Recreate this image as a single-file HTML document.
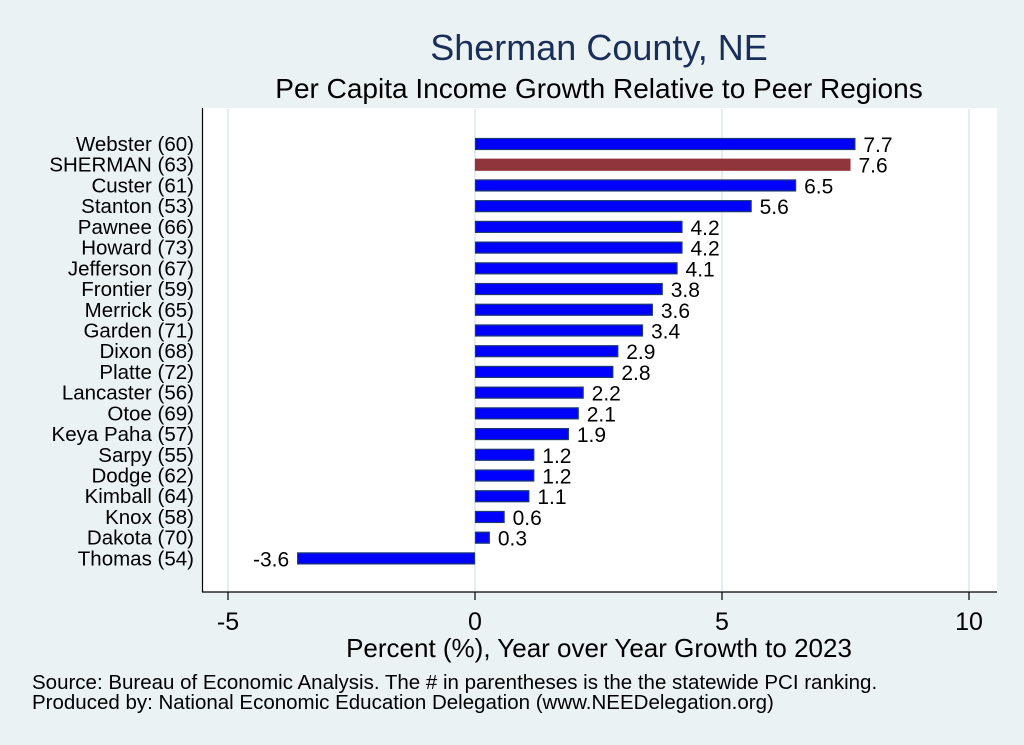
<!DOCTYPE html>
<html><head><meta charset="utf-8"><style>
body{margin:0;background:#eaf2f3;font-family:"Liberation Sans",Arial,sans-serif}
svg{display:block}
</style></head><body>
<svg width="1024" height="745" viewBox="0 0 1024 745">
<rect width="1024" height="745" fill="#eaf2f3"/>
<text x="599" y="60" font-size="36" fill="#1a2e5a" text-anchor="middle">Sherman County, NE</text>
<text x="599" y="98" font-size="28" fill="#000" text-anchor="middle">Per Capita Income Growth Relative to Peer Regions</text>
<rect x="202" y="108" width="795" height="484" fill="#fff"/>
<g id="grid"></g>
<line x1="202.5" y1="108" x2="202.5" y2="592" stroke="#000" stroke-width="1.2"/>
<line x1="202" y1="592" x2="997" y2="592" stroke="#000" stroke-width="1.2"/>
<g id="bars"></g>
<g id="xaxis"></g>
<text x="599" y="657" font-size="26" text-anchor="middle">Percent (%), Year over Year Growth to 2023</text>
<text x="32" y="689" font-size="20.5">Source: Bureau of Economic Analysis. The # in parentheses is the the statewide PCI ranking.</text>
<text x="32" y="709" font-size="20.5">Produced by: National Economic Education Delegation (www.NEEDelegation.org)</text>
</svg>
<script>
const categories=["Webster (60)","SHERMAN (63)","Custer (61)","Stanton (53)","Pawnee (66)","Howard (73)","Jefferson (67)","Frontier (59)","Merrick (65)","Garden (71)","Dixon (68)","Platte (72)","Lancaster (56)","Otoe (69)","Keya Paha (57)","Sarpy (55)","Dodge (62)","Kimball (64)","Knox (58)","Dakota (70)","Thomas (54)"];
const values=[7.7,7.6,6.5,5.6,4.2,4.2,4.1,3.8,3.6,3.4,2.9,2.8,2.2,2.1,1.9,1.2,1.2,1.1,0.6,0.3,-3.6];
const highlight=["SHERMAN (63)"];
const ticks=[-5,0,5,10];
const NS="http://www.w3.org/2000/svg";
const x=v=>475+v*49.4;
const y=i=>144+i*20.72;
function mk(tag,attrs,parent){const e=document.createElementNS(NS,tag);for(const k in attrs)e.setAttribute(k,attrs[k]);document.getElementById(parent).appendChild(e);return e;}
ticks.forEach(t=>{
  const g=mk('line',{x1:x(t),x2:x(t),y1:109,y2:591,stroke:'#e4eef0','stroke-width':2},'grid');
  
  
  const tk=mk('line',{x1:x(t),x2:x(t),y1:592,y2:600,stroke:'#000','stroke-width':1.2},'xaxis');
  
  
  const tl=mk('text',{x:x(t),y:630,'font-size':25,'text-anchor':'middle'},'xaxis');
  tl.textContent=t;
  
  
});
categories.forEach((c,i)=>{
  const v=values[i],hl=highlight.includes(c);
  const x0=Math.min(x(0),x(v)),w=Math.abs(x(v)-x(0));
  const r=mk('rect',{x:x0+0.5,y:y(i)-5.5,width:Math.max(w-1,1),height:11,fill:hl?'#90353b':'#0000ff',stroke:hl?'#90353b':'#1a3a6f','stroke-width':1.2},'bars');
  
  
  const lb=mk('text',{x:194,y:y(i)+7,'font-size':20.5,'text-anchor':'end'},'bars');
  lb.textContent=c;
  
  
  const vl=mk('text',{x:v>=0?x(v)+8:x(v)-8,y:y(i)+8,'font-size':21,'text-anchor':v>=0?'start':'end'},'bars');
  vl.textContent=v.toFixed(1);
  
  
});
</script>
</body></html>
